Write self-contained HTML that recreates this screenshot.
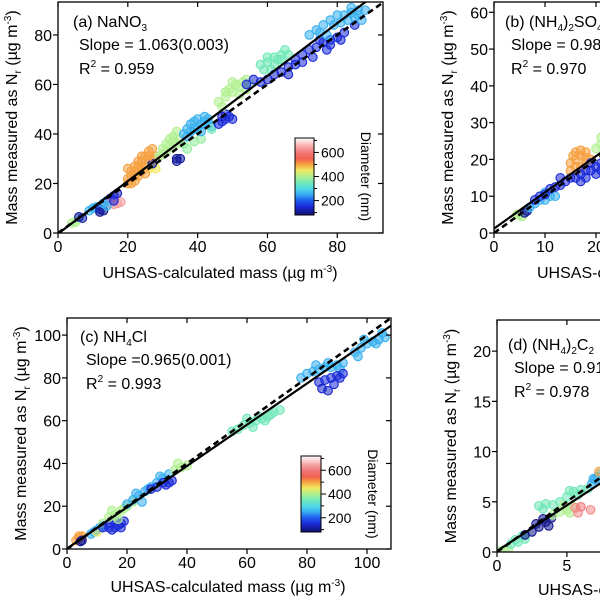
<!DOCTYPE html>
<html><head><meta charset="utf-8">
<style>
html,body{margin:0;padding:0;background:#fff;}
svg{display:block;font-family:"Liberation Sans",Arial,sans-serif;}
</style></head>
<body>
<svg id="chart" width="600" height="600" viewBox="0 0 600 600" xmlns="http://www.w3.org/2000/svg">
<defs>
<linearGradient id="jet" x1="0" y1="1" x2="0" y2="0">
<stop offset="0" stop-color="#10106e"/><stop offset="0.11" stop-color="#1a2ad8"/><stop offset="0.19" stop-color="#2060f0"/>
<stop offset="0.27" stop-color="#38b0f0"/><stop offset="0.34" stop-color="#50d8e8"/><stop offset="0.42" stop-color="#70e8b8"/>
<stop offset="0.5" stop-color="#b0f090"/><stop offset="0.58" stop-color="#f0e860"/><stop offset="0.66" stop-color="#f5a040"/>
<stop offset="0.73" stop-color="#f06050"/><stop offset="0.81" stop-color="#f07878"/><stop offset="0.89" stop-color="#f8a8a8"/><stop offset="1" stop-color="#ffffff"/>
</linearGradient>
</defs>
</svg>
<script>
// ---- data (x: UHSAS mass, y: measured mass, d: diameter nm) ----
const pointsA = [[5,4.5,400],[4,4,400],[6,6,400],[6,6.5,120],[7,6,120],
[9,9,250],[10,10,250],[11,10.5,250],[12,8.5,100],[13,9,100],[12,9.5,120],[14,13,250],[15,14,150],[16,15,150],[17,16,130],[15,12,640],[16,11.5,650],[17,12,640],[18,12.5,640],[14,11,250],[16,13,150],[13,12,250],
[20,20,500],[21,20,500],[22,21,500],[21,23,500],[22,25,500],[23,27,500],[24,29,500],[25,31,500],[26,33,500],[27,34,500],[23,23,500],[24,25,500],[25,27,500],[26,29,500],[27,30,500],[28,31,500],[22,27,500],[20,26,500],[26,26,450],[27,27,450],[28,26,450],[27,28,120],[21,25,500],[23,29,500],[24,31,500],[25,24,500],[20,22,500],[22,23,500],[24,27,500],[26,31,500],
[29,31,400],[30,34,400],[31,36,400],[32,38,400],[33,39,400],[34,41,400],[30,32,400],[32,35,400],[34,36,400],[35,38,400],[36,36,380],[37,34,380],[34,30,110],[34,29,110],[35,30,110],[31,33,400],[33,37,400],
[36,40,250],[37,42,250],[38,44,250],[39,45,250],[40,46,250],[41,44,250],[42,45,250],[43,44,250],[44,43,250],[40,42,250],[38,41,250],[42,47,250],[44,42,350],[41,38,380],[39,37,380],[39,42,250],[41,41,250],[43,46,250],[37,39,250],
[46,44,150],[47,45,150],[48,46,150],[49,47,150],[50,46,150],[48,48,150],[47,47,140],
[46,53,400],[48,55,400],[50,57,400],[52,59,400],[54,62,400],[49,58,400],[51,60,400],[53,61,400],[55,60,400],[47,51,400],[52,56,400],[50,61,400],[54,58,400],[48,57,400],
[54,60,150],[56,62,150],[58,61,150],
[58,68,350],[60,69,350],[62,71,350],[64,72,350],[66,72,350],[61,66,350],[63,70,350],[59,66,350],[65,74,350],[62,68,350],[60,71,350],[64,70,350],
[60,62,140],[62,64,140],[64,65,150],[66,67,150],[68,70,150],[70,72,150],[68,68,150],[66,64,140],[72,74,150],[74,75,150],[76,77,150],[78,78,150],[80,79,150],[75,78,150],[78,76,150],[82,81,150],[85,84,150],[73,71,150],[70,69,150],[77,74,150],[81,78,150],
[72,80,250],[74,82,250],[76,84,250],[78,86,250],[80,88,250],[82,88,250],[84,89,250],[86,90,250],[88,90,250],[79,84,250],[83,86,250],[77,80,250],[85,87,250],[87,86,250],[84,91,250],[81,85,250],[75,81,250],[86,88,250]];
const pointsB = [[5,5,400],[6,6,400],[5.5,4.5,400],[4.5,5,400],[6,5.5,100],[6.5,6,120],
[7,7,250],[8,8,250],[9,9,250],[10,9,250],[11,10,250],[12,10,250],[10,11,250],
[8,9,150],[9,10,150],[10,10.5,150],[11,12,150],[12,12.5,150],[13,13,150],[14,14,150],[13,15,150],[15,15,150],
[15,19,500],[16,20,500],[17,21,500],[18,22,500],[16,22,500],[15,17,500],[17,18,500],[18,19,500],[19,20,500],[16,18,500],[17,22.5,500],[15.5,21,500],[18,20.5,500],
[16,15,150],[17,16,150],[18,17,150],[19,17,150],[20,18,150],[21,19,150],[18,15,150],[20,16,150],[22,17,150],[19,19,150],[17,14,150],[21,17,150],
[20,23,400],[21,24,400],[22,25,400],[21,26,400],[22,22,400]];
const pointsC = [[3,4,500],[4,5,500],[5,6,500],[4,6,500],[5,4,100],[4.5,3.5,100],
[8,7,250],[9,8,250],[10,9,250],[11,10,250],[12,11,250],[10,8,450],[12,12,400],
[12,10,150],[14,10,150],[15,9,150],[16,10,150],[17,11,150],[18,12,150],[19,13,150],[16,13,150],[14,12,150],[18,10,150],
[14,15,400],[16,16,400],[18,18,400],[20,20,400],[22,22,400],[15,18,400],[19,19,400],[17,14,400],
[20,21,250],[22,23,250],[24,25,250],[26,27,250],[28,29,250],[30,31,250],[32,33,250],[34,35,250],[23,26,250],[27,28,250],[31,34,250],[25,22,250],
[28,28,150],[30,29,150],[32,31,150],[34,31,150],[35,32,150],[33,30,150],
[36,37,400],[38,38,400],[40,39,400],[37,40,400],
[55,55,350],[57,56,350],[59,58,350],[61,59,350],[63,60,350],[65,61,350],[67,62,350],[69,64,350],[71,65,350],[60,61,350],[64,62,350],[68,63,350],[62,57,350],[66,60,350],
[78,80,250],[80,82,250],[82,83,250],[84,84,250],[86,85,250],[88,85,250],[90,86,250],[92,87,250],[83,86,250],[87,87,250],[91,84,250],
[84,78,150],[86,79,150],[88,80,150],[90,81,150],[92,82,150],[85,75,140],[87,74,140],[89,77,150],[91,80,150],
[96,92,250],[98,94,250],[100,96,250],[102,97,250],[104,98,250],[106,99,250],[99,98,250],[103,96,250],[97,90,250],[105,101,250]];
const pointsD = [[0.2,0.1,400],[0.5,0.2,400],[0.8,0.3,400],[1,0.8,350],[1.5,1,350],[2,1.3,350],[1.8,1.6,350],[1.3,1.2,350],
[2,1.7,100],[2.5,2,100],[3,2.5,100],[3.5,3,100],[3.7,2.6,100],[2.8,2.8,100],[3.3,3.3,100],[3.9,3.4,100],
[3,4.6,350],[3.5,4.8,350],[4,4.7,350],[4.5,5,350],[3.3,4.3,350],
[4,3.7,400],[4.5,4,400],[5,4.2,400],[5.5,4.5,400],[4.8,4.7,400],[5.2,3.9,400],
[5.6,4.4,620],[6,4.5,600],[6.7,4.2,620],[5.8,3.9,620],
[5,5.5,350],[5.5,6,350],[6,6.2,350],[6.5,6.3,350],[5.2,6.1,350],[5.8,5.7,350],
[6.8,6.8,250],[7,7.2,250],[7.2,7.5,250],[6.9,7.3,250],[7.4,7.8,300],[7.3,8,500],[7.5,7.1,250]];
const fitSlopes = [1.063, 0.985, 0.965, 0.91];
const fitIntercepts = [-0.3, 1.2, 0.2, 0.1];
const xTicksA = [0,20,40,60,80], yTicksA = [0,20,40,60,80];
const xTicksB = [0,10,20], yTicksB = [0,10,20,30,40,50,60];
const xTicksC = [0,20,40,60,80,100], yTicksC = [0,20,40,60,80,100];
const xTicksD = [0,5], yTicksD = [0,5,10,15,20];
const cbTicks = [200,400,600];
const labels = ['(a) NaNO','(b) (NH','(c) NH','(d) (NH'];
const slopeTexts = ['Slope = 1.063(0.003)','Slope = 0.98','Slope =0.965(0.001)','Slope = 0.91'];
const r2Texts = ['= 0.959','= 0.970','= 0.993','= 0.978'];

const NS='http://www.w3.org/2000/svg';
const svg=document.getElementById('chart');
function mk(tag,attrs,parent){const e=document.createElementNS(NS,tag);for(const k in attrs)e.setAttribute(k,attrs[k]);(parent||svg).appendChild(e);return e;}

const cmapD=[80,150,200,250,300,350,400,450,500,550,600,650,720];
const cmapC=[[16,16,110],[26,42,216],[32,96,240],[56,176,240],[80,216,232],[112,232,184],[176,240,144],[240,232,96],[245,160,64],[240,96,80],[240,120,120],[248,168,168],[255,255,255]];
function color(d){
  if(d<=cmapD[0])return 'rgb('+cmapC[0]+')';
  for(let i=1;i<cmapD.length;i++){if(d<=cmapD[i]){const t=(d-cmapD[i-1])/(cmapD[i]-cmapD[i-1]);const a=cmapC[i-1],b=cmapC[i];return 'rgb('+a.map((v,j)=>Math.round(v+(b[j]-v)*t)).join(',')+')';}}
  return '#fff';
}

const panels=[
 {key:'a',L:58,R:383,T:2,B:233,xmax:93.1,ymax:93.3,pts:pointsA,xt:xTicksA,yt:yTicksA,sub:'3',tx:73,ty:27,sub2:'',cb:{x:295,y:138,w:19,h:77},xtY:252,xtitle:{x:220,y:278,a:'middle'}},
 {key:'b',L:494,R:620,T:2,B:233,xmax:24.7,ymax:62.8,pts:pointsB,xt:xTicksB,yt:yTicksB,sub:'4',tx:505,ty:27,sub2:')',post:'SO',sub3:'4',xtY:252,xtitle:{x:537,y:278,a:'start'}},
 {key:'c',L:67,R:391,T:318,B:549,xmax:108,ymax:108,pts:pointsC,xt:xTicksC,yt:yTicksC,sub:'4',post:'Cl',tx:80,ty:342,cb:{x:301,y:456,w:20,h:76},xtY:568,xtitle:{x:228,y:592,a:'middle'}},
 {key:'d',L:497,R:620,T:320,B:552,xmax:8.8,ymax:23.1,pts:pointsD,xt:xTicksD,yt:yTicksD,sub:'4',sub2:')',post:'C',sub3:'2',tx:508,ty:350,xtY:571,xtitle:{x:538,y:595,a:'start'}}
];

panels.forEach((p,pi)=>{
  const g=mk('g',{});
  
  
  const sx=v=>p.L+v*(p.R-p.L)/p.xmax;
  const sy=v=>p.B-v*(p.B-p.T)/p.ymax;
  const cp=mk('clipPath',{id:'clip'+p.key},g);
  mk('rect',{x:p.L,y:p.T,width:p.R-p.L,height:p.B-p.T},cp);
  const pg=mk('g',{'clip-path':'url(#clip'+p.key+')'},g);
  
  
  p.pts.forEach(q=>{
    const c=mk('circle',{cx:sx(q[0]).toFixed(1),cy:sy(q[1]).toFixed(1),r:4.3,fill:color(q[2]),'fill-opacity':0.55,stroke:color(q[2]),'stroke-width':1.1},pg);
    
    
  });
  const dl=mk('line',{x1:sx(0),y1:sy(0),x2:sx(p.xmax*1.2),y2:sy(p.xmax*1.2),stroke:'#000','stroke-width':2.6,'stroke-dasharray':'6,4'},pg);
  
  
  const m=fitSlopes[pi],b0=fitIntercepts[pi];
  const fl=mk('line',{x1:sx(0),y1:sy(b0),x2:sx(p.xmax*1.2),y2:sy(m*p.xmax*1.2+b0),stroke:'#000','stroke-width':2.2},pg);
  
  
  const fr=mk('rect',{x:p.L,y:p.T,width:p.R-p.L,height:p.B-p.T,fill:'none',stroke:'#000','stroke-width':1.3},g);
  
  
  p.xt.forEach(v=>{
    mk('line',{x1:sx(v),y1:p.B,x2:sx(v),y2:p.B+5,stroke:'#000','stroke-width':1.2},g);
    mk('line',{x1:sx(v),y1:p.T,x2:sx(v),y2:p.T+5,stroke:'#000','stroke-width':1.2},g);
    const t=mk('text',{x:sx(v),y:p.xtY,'font-size':16,'text-anchor':'middle'},g);t.textContent=v;
    
    
  });
  p.yt.forEach(v=>{
    mk('line',{x1:p.L-5,y1:sy(v),x2:p.L,y2:sy(v),stroke:'#000','stroke-width':1.2},g);
    mk('line',{x1:p.R-5,y1:sy(v),x2:p.R,y2:sy(v),stroke:'#000','stroke-width':1.2},g);
    const t=mk('text',{x:p.L-6,y:sy(v)+6,'font-size':16,'text-anchor':'end'},g);t.textContent=v;
    
    
  });
  const xt=mk('text',{x:p.xtitle.x,y:p.xtitle.y,'font-size':16,'text-anchor':p.xtitle.a},g);
  xt.innerHTML='UHSAS-calculated mass (µg m<tspan dy="-6" font-size="10">-3</tspan><tspan dy="6">)</tspan>';
  
  
  const cy=(p.T+p.B)/2, cx=p.L-41;
  const yt=mk('text',{x:0,y:0,'font-size':16,'text-anchor':'middle',transform:'translate('+cx+','+cy+') rotate(-90)'},g);
  yt.innerHTML='Mass measured as N<tspan dy="4" font-size="10">r</tspan><tspan dy="-4"> (µg m</tspan><tspan dy="-6" font-size="10">-3</tspan><tspan dy="6">)</tspan>';
  
  
  const lt=mk('text',{x:p.tx,y:p.ty,'font-size':16},g);
  let h=labels[pi]+'<tspan dy="4" font-size="10">'+p.sub+'</tspan>';
  if(p.sub2)h+='<tspan dy="-4">'+p.sub2+'</tspan><tspan dy="4" font-size="10">2</tspan><tspan dy="-4">'+p.post+'</tspan><tspan dy="4" font-size="10">'+p.sub3+'</tspan>';
  else if(p.post)h+='<tspan dy="-4">'+p.post+'</tspan>';
  lt.innerHTML=h;
  
  
  const st=mk('text',{x:p.tx+6,y:p.ty+23,'font-size':16},g);st.textContent=slopeTexts[pi];
  
  
  const rt=mk('text',{x:p.tx+6,y:p.ty+47,'font-size':16},g);
  rt.innerHTML='R<tspan dy="-7" font-size="10">2</tspan><tspan dy="7"> '+r2Texts[pi]+'</tspan>';
  
  
  if(p.cb){
    const c=p.cb;
    const cg=mk('g',{},g);
    
    
    mk('rect',{x:c.x,y:c.y,width:c.w,height:c.h,fill:'url(#jet)',stroke:'#000','stroke-width':1},cg);
    const cs=v=>c.y+c.h-(v-80)/(720-80)*c.h;
    [100,200,300,400,500,600,700].forEach(v=>{mk('line',{x1:c.x+c.w,y1:cs(v),x2:c.x+c.w+(v%200===0?5:3),y2:cs(v),stroke:'#000','stroke-width':1},cg);});
    cbTicks.forEach(v=>{const t=mk('text',{x:c.x+c.w+7,y:cs(v)+5,'font-size':14},cg);t.textContent=v;
      
      });
    const dt=mk('text',{x:0,y:0,'font-size':14,'text-anchor':'middle',transform:'translate('+(c.x+c.w+47)+','+(c.y+c.h/2)+') rotate(90)'},cg);
    dt.textContent='Diameter (nm)';
    
    
  }
});
</script>
</body></html>
